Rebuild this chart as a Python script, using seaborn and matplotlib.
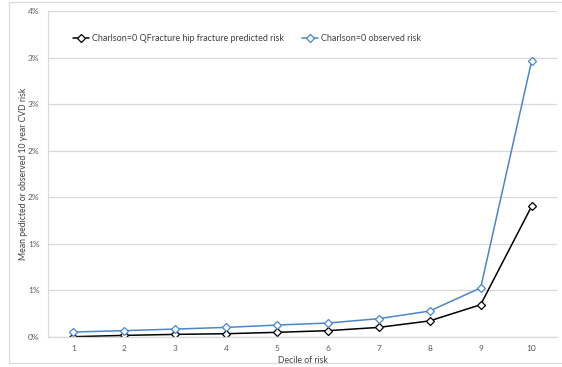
import matplotlib
matplotlib.use("Agg")
import matplotlib.pyplot as plt
import matplotlib.patches as mpatches
import seaborn as sns
import pandas as pd

deciles = [1, 2, 3, 4, 5, 6, 7, 8, 9, 10]
# mean risk in percent
predicted = [0.0, 0.014, 0.025, 0.032, 0.047, 0.065, 0.10, 0.17, 0.344, 1.40]
observed = [0.05, 0.065, 0.082, 0.10, 0.125, 0.147, 0.194, 0.276, 0.525, 2.96]
series_names = ["Charlson=0 QFracture hip fracture predicted risk",
                "Charlson=0 observed risk"]
series_colors = ["#000000", "#4a86c8"]
ytick_values = [0, 0.5, 1.0, 1.5, 2.0, 2.5, 3.0, 3.5]
ytick_labels = ["0%", "1%", "1%", "2%", "2%", "3%", "3%", "4%"]

df = pd.DataFrame({
    "decile": deciles * 2,
    "risk": predicted + observed,
    "series": [series_names[0]] * 10 + [series_names[1]] * 10,
})

sns.set_style("white")
plt.rcParams["font.family"] = ["Lato", "DejaVu Sans"]
grid_col = "#d9d9d9"
text_col = "#595959"

fig = plt.figure(figsize=(5.62, 3.67), dpi=100)
ax = fig.add_axes([48 / 562, (367 - 336.7) / 367, (557 - 48) / 562, (336.7 - 11) / 367])

sns.lineplot(data=df, x="decile", y="risk", hue="series", hue_order=series_names,
             palette=series_colors, marker="D", markersize=3.8,
             markerfacecolor="white", markeredgewidth=0.9, linewidth=1.1,
             ax=ax, legend=True)
for line, c in zip(ax.lines, series_colors):
    line.set_markeredgecolor(c)

ax.set_xlim(0.5, 10.5)
ax.set_ylim(0, 3.5)
ax.set_xticks(deciles)
ax.set_xticklabels([str(d) for d in deciles])
ax.set_yticks(ytick_values)
ax.set_yticklabels(ytick_labels)
ax.tick_params(axis="both", length=0, labelsize=6, colors=text_col, pad=6)
ax.yaxis.grid(True, color=grid_col, linewidth=0.9)
ax.set_axisbelow(True)
for s in ["top", "right"]:
    ax.spines[s].set_visible(False)
ax.spines["left"].set_color(grid_col)
ax.spines["left"].set_linewidth(0.8)
ax.spines["bottom"].set_color(grid_col)
ax.spines["bottom"].set_linewidth(0.9)

ax.set_xlabel("Decile of risk", fontsize=6.2, color="#404040", labelpad=3)
ax.set_ylabel("Mean pedicted or observed 10 year CVD risk", fontsize=6.2,
              color="#404040", labelpad=0)

handles, labels = ax.get_legend_handles_labels()
for h, c in zip(handles, series_colors):
    h.set_markeredgecolor(c)
    h.set_markerfacecolor("white")
ax.legend(handles, labels, loc="upper left", bbox_to_anchor=(0.033, 0.955),
          ncol=2, frameon=False, fontsize=6.5, handlelength=1.8,
          handletextpad=0.3, columnspacing=2.0, labelcolor="#404040")

fig.patches.append(mpatches.Rectangle((9 / 562, (367 - 363) / 367), 560 / 562, (363 - 2) / 367,
                                      transform=fig.transFigure, fill=False,
                                      edgecolor=grid_col, linewidth=0.9))

fig.savefig("out.png", dpi=100)
